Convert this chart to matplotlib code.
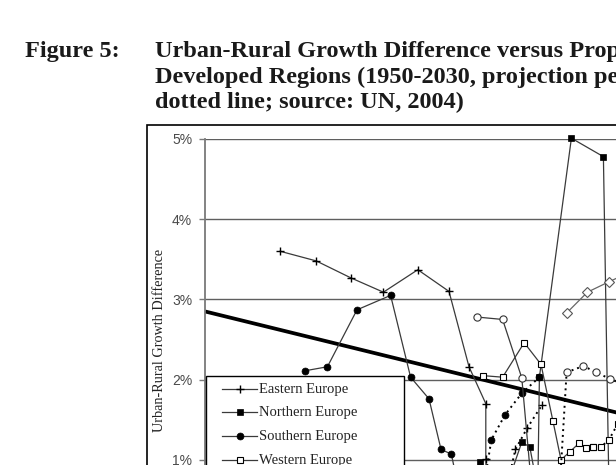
import matplotlib
matplotlib.use("Agg")
import matplotlib.pyplot as plt
from matplotlib.lines import Line2D
from matplotlib.patches import Rectangle
from matplotlib.ticker import FuncFormatter

# ---------------- data (x = proportion urban %, y = urban-rural growth difference %) -------------
fig_label = "Figure 5:"
title_lines = [
    "Urban-Rural Growth Difference versus Proportion Urban in More",
    "Developed Regions (1950-2030, projection period indicated by",
    "dotted line; source: UN, 2004)",
]
y_label = "Urban-Rural Growth Difference"
y_ticks = [0, 1, 2, 3, 4, 5]

legend_names = ["Eastern Europe", "Northern Europe", "Southern Europe", "Western Europe"]

east_x = [39.4, 43.9, 48.2, 52.3, 56.6, 60.5, 63.0, 65.1, 65.1, 65.3]
east_y = [3.60, 3.48, 3.27, 3.09, 3.37, 3.10, 2.16, 1.70, 1.01, 0.30]
east_proj_x = [65.3, 66.2, 67.5, 68.8, 70.3, 72.1]
east_proj_y = [0.30, 0.20, 0.55, 1.13, 1.40, 1.68]

north_x = [63.1, 64.4, 66.9, 69.6, 70.6, 71.6, 71.8, 75.8, 79.8, 80.6]
north_y = [0.25, 0.97, 0.44, 1.22, 1.16, 0.63, 2.03, 5.01, 4.78, 0.00]

south_x = [42.5, 45.3, 49.0, 53.2, 55.7, 58.0, 59.5, 60.8, 62.1, 63.8]
south_y = [2.11, 2.16, 2.87, 3.05, 2.03, 1.76, 1.13, 1.07, 0.44, 0.35]
south_proj_x = [63.8, 64.9, 65.8, 67.5, 69.6, 71.8]
south_proj_y = [0.35, 0.70, 1.25, 1.56, 1.83, 2.03]

west_x = [64.7, 67.2, 69.9, 72.0, 73.5, 74.5, 75.6, 76.8, 77.6, 78.5]
west_y = [2.05, 2.03, 2.46, 2.19, 1.48, 1.00, 1.10, 1.21, 1.15, 1.16]
west_proj_x = [78.5, 79.5, 80.5, 81.6, 82.6, 83.5, 84.5]
west_proj_y = [1.16, 1.16, 1.25, 1.45, 1.60, 1.70, 1.80]

circ_x = [64.0, 67.2, 69.6, 71.3, 72.9, 74.1]
circ_y = [2.78, 2.75, 2.02, 0.13, -0.25, 0.25]
circ_proj_x = [74.1, 75.2, 77.3, 78.9, 80.6, 82.5]
circ_proj_y = [0.25, 2.09, 2.17, 2.09, 2.01, 1.93]

diam_x = [75.2, 77.8, 80.5, 83.1]
diam_y = [2.83, 3.09, 3.22, 3.34]

trend_x = [30, 90]
trend_y = [2.85, 1.38]

# ---------------- figure ----------------
W, H = 616, 465
fig = plt.figure(figsize=(W / 100, H / 100), dpi=100)
fig.patch.set_facecolor("white")


def fx(x):
    return x / W


def fy(y):
    return 1 - y / H


SERIF = "Liberation Serif"
SANS = "Liberation Sans"
TFS = 17.5

# title
fig.text(fx(25), fy(57), fig_label, fontsize=TFS, fontweight="bold", family=SERIF,
         va="baseline", color="#1a1a1a")
for i, line in enumerate(title_lines):
    fig.text(fx(155), fy(57 + 25.5 * i), line, fontsize=TFS, fontweight="bold",
             family=SERIF, va="baseline", color="#1a1a1a")

# outer chart frame
fig.add_artist(Rectangle((fx(147), fy(900)), (1000 - 147) / W, (900 - 125) / H,
                         transform=fig.transFigure, fill=False, edgecolor="black",
                         lw=1.2, clip_on=False, zorder=0.5))

# axes: y 0..5 maps to px 540..139, x 30..90 maps to px 205..685
ax = fig.add_axes([fx(205), fy(540), 480 / W, 401 / H])
ax.set_xlim(30, 90)
ax.set_ylim(0, 5)
ax.set_facecolor("none")
for s in ["top", "right", "bottom"]:
    ax.spines[s].set_visible(False)
ax.spines["left"].set_color("#7a7a7a")
ax.spines["left"].set_linewidth(1.3)
ax.set_xticks([])
ax.set_yticks(y_ticks)
ax.yaxis.set_major_formatter(FuncFormatter(lambda v, p: f"{int(round(v))}%"))
ax.tick_params(axis="y", direction="out", length=4.2, width=1, color="#7a7a7a",
               pad=5, labelsize=10, labelcolor="#4a4a4a")
for lab in ax.get_yticklabels():
    lab.set_family(SANS)
ax.yaxis.grid(True, color="#5f5f5f", lw=1)
ax.set_axisbelow(True)

LC = "#3a3a3a"
LW = 0.9
DOT = dict(color="black", lw=1.4, linestyle=(0, (1, 2)))

styles = {
    "east": dict(marker="+", ms=6, mew=1.0, mec="black", mfc="black"),
    "north": dict(marker="s", ms=4.5, mew=0.5, mec="black", mfc="black"),
    "south": dict(marker="o", ms=5, mew=0.5, mec="black", mfc="black"),
    "west": dict(marker="s", ms=5, mew=0.8, mec="black", mfc="white"),
    "circ": dict(marker="o", ms=5.2, mew=0.8, mec="#333333", mfc="white"),
    "diam": dict(marker="D", ms=5, mew=0.8, mec="#555555", mfc="white"),
}

ax.plot(trend_x, trend_y, color="black", lw=2.7, zorder=2.5, solid_capstyle="butt")

ax.plot(east_x, east_y, color=LC, lw=LW, zorder=3, clip_on=False, **styles["east"])
ax.plot(east_proj_x, east_proj_y, zorder=3, clip_on=False, **DOT, **styles["east"])
ax.plot(north_x, north_y, color=LC, lw=LW, zorder=3, clip_on=False, **styles["north"])
ax.plot(south_x, south_y, color=LC, lw=LW, zorder=3, clip_on=False, **styles["south"])
ax.plot(south_proj_x, south_proj_y, zorder=3, clip_on=False, **DOT, **styles["south"])
ax.plot(west_x, west_y, color=LC, lw=LW, zorder=3, clip_on=False, **styles["west"])
ax.plot(west_proj_x, west_proj_y, zorder=3, clip_on=False, **DOT, **styles["west"])
ax.plot(circ_x, circ_y, color=LC, lw=LW, zorder=3, clip_on=False, **styles["circ"])
ax.plot(circ_proj_x, circ_proj_y, zorder=3, clip_on=False, **DOT, **styles["circ"])
ax.plot(diam_x, diam_y, color="#666666", lw=LW, zorder=3, clip_on=False, **styles["diam"])

# y axis title
fig.text(fx(160), fy(340), y_label, rotation=90, ha="center", va="center",
         fontsize=10.3, family=SERIF, color="#222222")

# legend box (drawn over plot)
fig.add_artist(Rectangle((fx(206), fy(480)), (404 - 206) / W, (480 - 376) / H,
                         transform=fig.transFigure, facecolor="white", edgecolor="black",
                         lw=1.0, zorder=5))
leg_keys = ["east", "north", "south", "west"]
leg_y = [389, 412, 436, 460]
for name, key, yc in zip(legend_names, leg_keys, leg_y):
    fig.add_artist(Line2D([fx(222), fx(257)], [fy(yc), fy(yc)], transform=fig.transFigure,
                          color=LC, lw=LW, zorder=6))
    fig.add_artist(Line2D([fx(239.5)], [fy(yc)], transform=fig.transFigure,
                          linestyle="none", zorder=6, **styles[key]))
    fig.text(fx(259), fy(yc), name, va="center", ha="left", fontsize=10.5,
             family=SERIF, color="#222222", zorder=6)

fig.savefig("out.png", dpi=100)
